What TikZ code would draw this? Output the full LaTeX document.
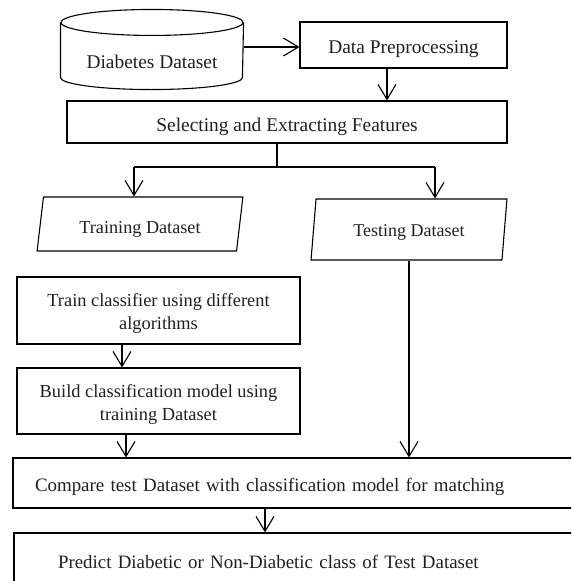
\documentclass[tikz,border=0pt]{standalone}
\usepackage{fontspec}
\setmainfont{Liberation Serif}
\usetikzlibrary{arrows.meta,shapes.geometric}
\begin{document}
\begin{tikzpicture}[x=1pt,y=-1pt,
  line width=1.1pt,
  txt/.style={font=\fontsize{19.4}{22}\selectfont, text=black!88},
  txtb/.style={font=\fontsize{18.9}{22}\selectfont, text=black!88},
  txtc/.style={font=\fontsize{18.4}{22.5}\selectfont, text=black!88, align=center},
  box/.style={draw, rectangle, inner sep=0pt, align=center, txt},
  para/.style={draw, trapezium, trapezium stretches=true, inner sep=0pt, txt},
  arr/.style={-{Straight Barb[length=15pt,width=18pt]}}]
\useasboundingbox (0,0) rectangle (571,581);
\clip (0,0) rectangle (571,581);

% cylinder
\node (ds) at (152,49.5) [minimum width=182pt, minimum height=79pt, inner sep=0pt] {};
\node (dslabel) at (152,61.4) [txt] {Diabetes Dataset};
\draw ([yshift=-13pt]ds.north) ellipse [x radius=91pt, y radius=13pt];
\draw ([yshift=-13pt]ds.north west) -- ([yshift=12pt]ds.south west)
  arc[start angle=180, end angle=360, x radius=91pt, y radius=12pt]
  -- ([yshift=-13pt]ds.north east);

\node (dp) at (403.5,45) [box, minimum width=207pt, minimum height=46pt,
  text height=16.6pt, text depth=0pt] {Data Preprocessing};
\node (sel) at (287,122) [box, minimum width=440pt, minimum height=42pt,
  text height=19pt, text depth=0pt] {Selecting and Extracting Features};

\node (tr) at (140,224) [para, trapezium left angle=77.5, trapezium right angle=102.5,
  minimum width=206pt, minimum height=54pt, font=\fontsize{18.2}{22}\selectfont,
  text height=18pt, text depth=0pt] {Training Dataset};
\node (te) at (409,229.5) [para, trapezium left angle=77, trapezium right angle=103,
  minimum width=196pt, minimum height=61pt, font=\fontsize{18}{22}\selectfont,
  text height=13pt, text depth=0pt] {Testing Dataset};

\node (trc) at (158.5,310.5) [box, minimum width=283pt, minimum height=67pt,
  label={[txtc, yshift=-3.2pt]center:Train classifier using different\\algorithms}] {};
\node (bld) at (158.5,401) [box, minimum width=283pt, minimum height=66pt,
  label={[txtc, yshift=-3.7pt]center:Build classification model using\\training Dataset}] {};

\node (cmp) at (313,483) [box, txtb, minimum width=600pt, minimum height=50pt, text width=556pt,
  align=left, inner xsep=22pt, text height=17.4pt, text depth=0pt]
  {Compare test Dataset with classification model for matching};
\node (pred) at (314,563) [box, txtb, minimum width=600pt, minimum height=60pt, text width=512pt,
  align=left, inner xsep=44pt, text height=10pt, text depth=0pt]
  {Predict Diabetic or Non-Diabetic class of Test Dataset};

% connectors
\draw[arr] ([yshift=-2pt]dp.west -| ds.east) -- ([yshift=-2pt]dp.west);
\draw[arr] ([xshift=-16.5pt]dp.south) -- ([xshift=-16.5pt]dp.south |- sel.north);

\coordinate (split) at (277,167);
\coordinate (j1) at (134,167);
\coordinate (j2) at (435,167);
\draw (split |- sel.south) -- (split);
\draw (j1) -- (j2);
\draw[arr] (j1) -- (j1 |- tr.north);
\draw[arr] (j2) -- (j2 |- te.north);

\draw[arr] (te.south) -- (te.south |- cmp.north);
\draw[arr] ([xshift=-36.5pt]trc.south) -- ([xshift=-36.5pt]trc.south |- bld.north);
\draw[arr] ([xshift=-32.5pt]bld.south) -- ([xshift=-32.5pt]bld.south |- cmp.north);
\draw[arr] (cmp.south -| 265,0) -- (265,0 |- pred.north);
\end{tikzpicture}
\end{document}
